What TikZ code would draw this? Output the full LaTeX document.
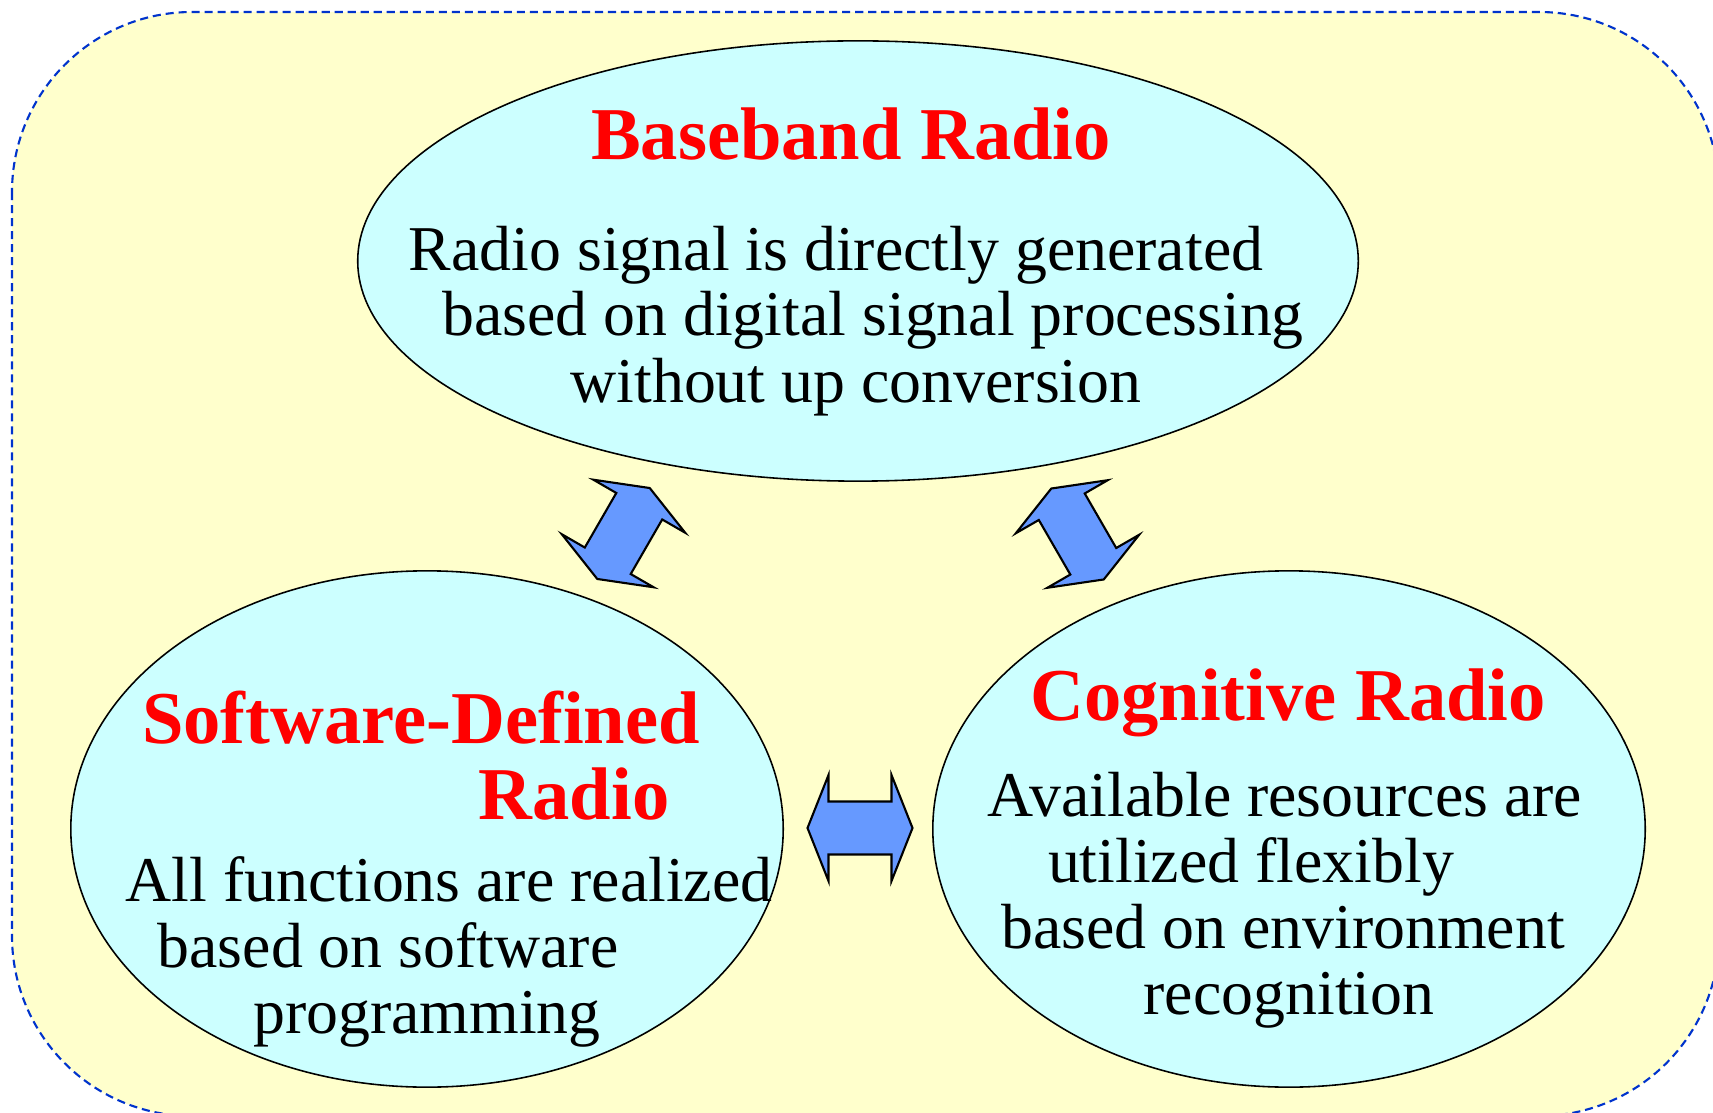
\documentclass[tikz,border=0pt]{standalone}
\usepackage{fontspec}
\setmainfont{Liberation Serif}
\usetikzlibrary{shapes.geometric}

\definecolor{bgyellow}{RGB}{255,255,204}
\definecolor{ellcyan}{RGB}{204,255,255}
\definecolor{arrblue}{RGB}{102,153,255}
\definecolor{bordblue}{RGB}{0,51,204}

\tikzset{
	radio/.style={ellipse, draw=black, line width=0.45pt, fill=ellcyan, inner sep=0pt},
	title/.style={font=\fontsize{21.2}{25}\selectfont\bfseries, text=red, anchor=base, inner sep=0pt},
	body/.style={font=\fontsize{18.15}{22}\selectfont, anchor=base, inner sep=0pt},
	dblarrow/.pic={
		\filldraw[fill=arrblue, draw=black, line width=0.6pt, line join=miter]
			(52.5,0) -- (31.5,53) -- (31.5,26.5) -- (-31.5,26.5) -- (-31.5,53) -- (-52.5,0)
			-- (-31.5,-53) -- (-31.5,-26.5) -- (31.5,-26.5) -- (31.5,-53) -- cycle;
	}
}

\begin{document}
\begin{tikzpicture}[x=0.01cm, y=-0.01cm]
	\clip (0,0) rectangle (1713,1113);
	\filldraw[fill=bgyellow, draw=bordblue, line width=0.6pt, dash pattern=on 2.3pt off 1.4pt, rounded corners=1.8cm]
		(12,12) rectangle (1719,1116);

	\node[radio, minimum width=10cm, minimum height=4.4cm] (bb) at (858,261) {};
	\node[radio, minimum width=7.12cm, minimum height=5.16cm] (sdr) at (427,829) {};
	\node[radio, minimum width=7.12cm, minimum height=5.16cm] (cr) at (1289,829) {};

	\node[title] (bbT) at (851,160) {Baseband Radio};
	\node[body] (bbA) at (836,271) {Radio signal is directly generated};
	\node[body] (bbB) at (873,336) {based on digital signal processing};
	\node[body] (bbC) at (856,403) {without up conversion};

	\node[title] (sdrT) at (421,743) {Software-Defined};
	\node[title] (sdrU) at (574,819) {Radio};
	\node[body] (sdrA) at (449,901) {All functions are realized};
	\node[body] (sdrB) at (388,967) {based on software};
	\node[body] (sdrC) at (427,1033) {programming};

	\node[title] (crT) at (1288,720) {Cognitive Radio};
	\node[body] (crA) at (1285,816) {Available resources are};
	\node[body] (crB) at (1251,882) {utilized flexibly};
	\node[body] (crC) at (1283,948) {based on environment};
	\node[body] (crD) at (1289,1014) {recognition};

	% flechas dobles entre los tres tipos
	\foreach \x/\y/\a in {623.5/533.5/60, 1077.5/534/120, 860/828/0} {
		\pic[rotate=\a] at (\x,\y) {dblarrow};
	}
\end{tikzpicture}
\end{document}
